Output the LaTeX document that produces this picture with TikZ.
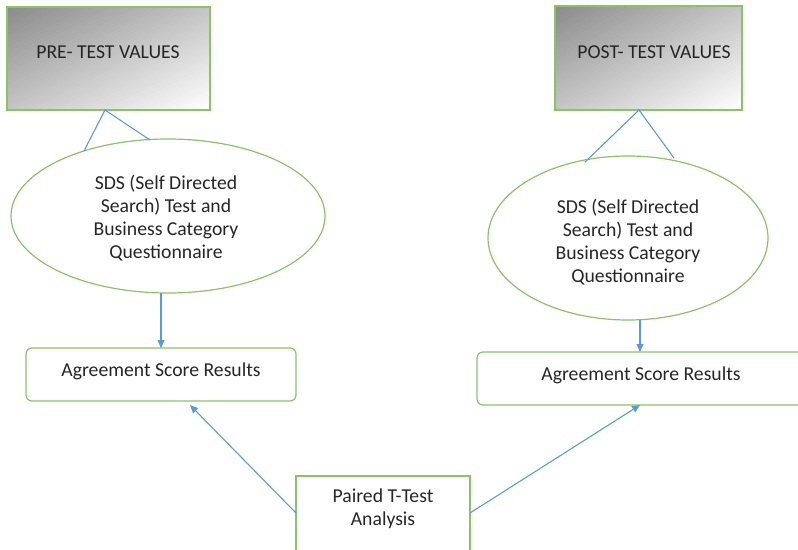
\documentclass[tikz,border=0pt]{standalone}
\usepackage{fontspec}
\setmainfont{Carlito}
\usetikzlibrary{arrows.meta,calc}
\definecolor{gbord}{HTML}{8CC168}
\definecolor{bline}{HTML}{5B9BD5}
\definecolor{txt}{HTML}{262626}
\definecolor{gdark}{HTML}{8A8A8A}
\newcommand\gradrect[4]{% x0, y0, w, h
  \begin{scope}
    \clip (#1,#2) rectangle ++(#3,#4);
    \foreach \i in {0,...,49}{
      \pgfmathsetmacro\sa{\i/25}
      \pgfmathsetmacro\sb{(\i+1.1)/25}
      \pgfmathsetmacro\pc{int(100*(1-(\i+0.5)/50))}
      \fill[gdark!\pc!white] ($(#1,#2)+(\sa*#3,0)$) -- ($(#1,#2)+(\sb*#3,0)$) -- ($(#1,#2)+(0,\sb*#4)$) -- ($(#1,#2)+(0,\sa*#4)$) -- cycle;
    }
  \end{scope}}
\tikzset{
  gline/.style={draw=gbord, line width=1.2pt},
  resbox/.style={gline, rounded corners=6pt},
  conn/.style={draw=bline, line width=1.1pt},
  arr/.style={conn, -{Triangle[length=8pt,width=7pt]}},
  lbl/.style={text=txt, font=\fontsize{19.7}{23}\selectfont, align=center}
}
\begin{document}
\begin{tikzpicture}[x=1pt,y=-1pt]
\useasboundingbox (0,0) rectangle (798,549);
% top boxes
\gradrect{7}{7}{203}{103}
\gradrect{555}{6}{187}{104}
\draw[gline] (7,7) rectangle (210,110);
\node[lbl] (pre) at (108,52) {PRE- TEST VALUES};
\draw[gline] (555,6) rectangle (742,110);
\node[lbl] (post) at (654,52) {POST- TEST VALUES};
\coordinate (preb) at (105,110);
\coordinate (postb) at (639,110);
% ellipses
\draw[gline] (168,216) ellipse [x radius=157, y radius=77];
\node[lbl] (lell) at (166,218) {SDS (Self Directed\\Search) Test and\\Business Category\\Questionnaire};
\draw[gline] (628,238) ellipse [x radius=140, y radius=82];
\node[lbl] (rell) at (628,242) {SDS (Self Directed\\Search) Test and\\Business Category\\Questionnaire};
\coordinate (le1) at (84,151);
\coordinate (le2) at (150,140);
\coordinate (re1) at (585,162);
\coordinate (re2) at (674,158);
\draw[conn] (le1) -- (preb) -- (le2);
\draw[conn] (re1) -- (postb) -- (re2);
% result boxes
\draw[resbox] (26,348) rectangle (296,401);
\node[lbl] (lres) at (161,371) {Agreement Score Results};
\draw[resbox] (477,352) rectangle (812,405);
\node[lbl] (rres) at (641,375) {Agreement Score Results};
\coordinate (lelb) at (161,293);
\coordinate (lrt) at (161,348);
\coordinate (relb) at (640,320);
\coordinate (rrt) at (640,352);
\draw[arr] (lelb) -- (lrt);
\draw[arr] (relb) -- (rrt);
% paired box
\draw[gline] (296,560) -- (296,476) -- (470,476) -- (470,560);
\node[lbl] (pair) at (383,509) {Paired T-Test\\Analysis};
\coordinate (pl) at (296,513);
\coordinate (pr) at (470,513);
\coordinate (lrb) at (190,405);
\coordinate (rrb) at (640,405);
\draw[arr] (pl) -- (lrb);
\draw[arr] (pr) -- (rrb);
\end{tikzpicture}
\end{document}
